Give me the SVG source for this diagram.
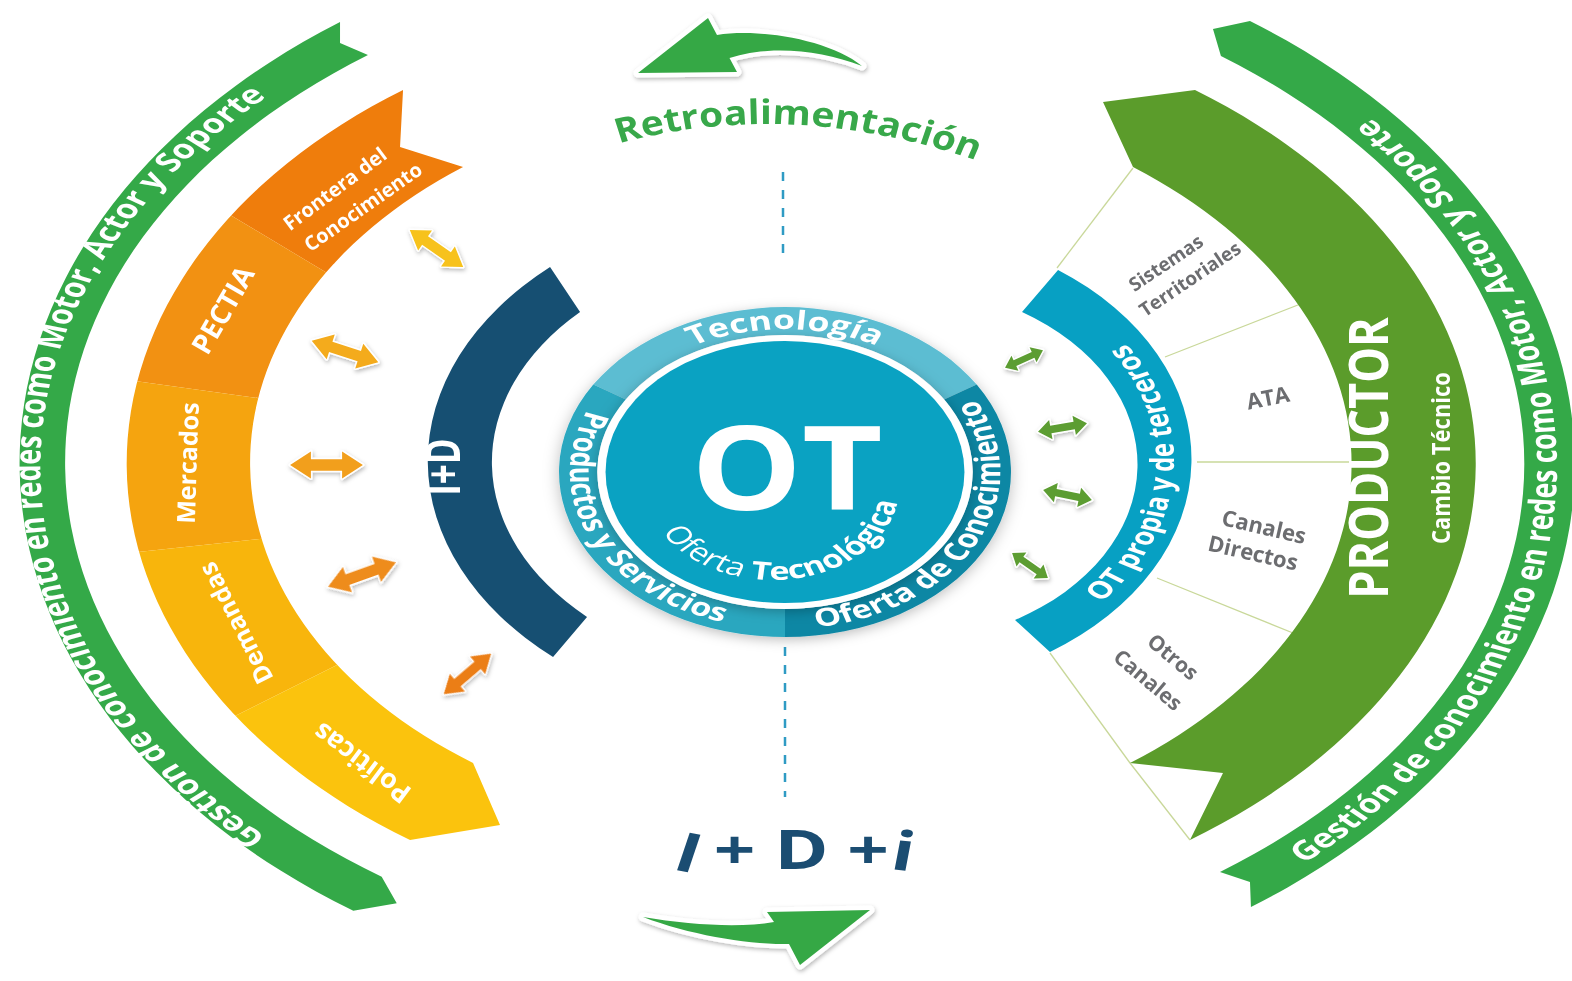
<svg xmlns="http://www.w3.org/2000/svg" width="1572" height="981" viewBox="0 0 1572 981">
<defs>
<style>
text { font-family: "Open Sans", "Liberation Sans", sans-serif; font-weight: 700; }
.w { fill: #ffffff; }
.gr { fill: #6c6d70; }
.sep { stroke: #c9d89a; stroke-width: 1.3; fill: none; }
.arr { stroke: #ffffff; stroke-width: 3; stroke-linejoin: round; paint-order: stroke; }
.stk { fill: #36a845; stroke: #ffffff; stroke-width: 9; stroke-linejoin: round; paint-order: stroke; }
</style>
<filter id="sh" x="-40%" y="-40%" width="180%" height="180%"><feDropShadow dx="1" dy="2" stdDeviation="2" flood-color="#000" flood-opacity="0.28"/></filter>
<filter id="sh2" x="-20%" y="-20%" width="140%" height="140%"><feDropShadow dx="0" dy="3" stdDeviation="6" flood-color="#000" flood-opacity="0.25"/></filter>
<path id="dbl" d="M -35 0 L -15 -13 L -15 -5.5 L 15 -5.5 L 15 -13 L 35 0 L 15 13 L 15 5.5 L -15 5.5 L -15 13 Z"/>
<path id="dblg" d="M -23 0 L -11 -9 L -11 -3.5 L 11 -3.5 L 11 -9 L 23 0 L 11 9 L 11 3.5 L -11 3.5 L -11 9 Z"/>
<clipPath id="cpO"><path d="M -278.8 -380 A 479.6 458 0 0 0 -273.7 370 L -208 355 L -227.7 293 A 390.5 370 0 0 1 -235 -303 L -281 -323 Z"/></clipPath>
<path id="pGL" d="M -271 443.9 A 545 516 0 0 1 -271 -449.9"/>
<path id="pGR" d="M 282.5 460.3 A 562 535 0 0 0 282.5 -466.3"/>
<path id="pTec" d="M -123.8 -69.5 A 143 143 0 0 1 123.8 -69.5"/>
<path id="pProd" d="M -128.6 -88.1 A 157 157 0 0 0 -13.7 158.4"/>
<path id="pOfe" d="M 5.5 158.9 A 157 157 0 0 0 130.2 -85.8"/>
<path id="pOT" d="M -95.4 49.2 A 92 92 0 0 0 83.1 17.7"/>
<path id="pCy" d="M 177 176.3 A 214 214 0 0 0 201.8 -177.6"/>
<path id="pRetro" d="M -153.9 143 Q -4.3 98 154.8 160"/>
</defs>
<rect width="1572" height="981" fill="#ffffff"/>

<!-- connectors: separators, dashed axis, double arrows -->
<g id="connectors">
  <path class="sep" d="M 1057 268 L 1133 168"/>
  <path class="sep" d="M 1165 357 L 1303 303"/>
  <path class="sep" d="M 1197 462 L 1353 462"/>
  <path class="sep" d="M 1157 578 L 1293 633"/>
  <path class="sep" d="M 1050 653 L 1130 763 L 1190 840"/>
  <path d="M 783 172 L 783 256" stroke="#2f9bc4" stroke-width="2.5" stroke-dasharray="9 9" fill="none"/>
  <path d="M 785 647 L 785 797" stroke="#2f9bc4" stroke-width="2.5" stroke-dasharray="9 9" fill="none"/>
  <g filter="url(#sh)">
    <use href="#dbl" class="arr" fill="#f7c21a" transform="translate(436.5 248.5) rotate(34.9) scale(0.93)"/>
    <use href="#dbl" class="arr" fill="#f4ab1a" transform="translate(345 351.5) rotate(18) scale(1)"/>
    <use href="#dbl" class="arr" fill="#f29f1d" transform="translate(326.5 465) rotate(0) scale(1.04)"/>
    <use href="#dbl" class="arr" fill="#ee8c1f" transform="translate(362 574.5) rotate(-19.7) scale(1.03)"/>
    <use href="#dbl" class="arr" fill="#eb7e18" transform="translate(467.5 674) rotate(-40.6) scale(0.89)"/>
    <use href="#dblg" class="arr" fill="#5c9d31" transform="translate(1024 359) rotate(-25) scale(0.91)"/>
    <use href="#dblg" class="arr" fill="#5c9d31" transform="translate(1062.5 427.5) rotate(-10) scale(1.08)"/>
    <use href="#dblg" class="arr" fill="#5c9d31" transform="translate(1067.5 495) rotate(11.5) scale(1.08)"/>
    <use href="#dblg" class="arr" fill="#5c9d31" transform="translate(1030 565.5) rotate(35) scale(0.95)"/>
  </g>
</g>

<g transform="translate(785 470) scale(1.37 1)">
  <g id="left-green-band">
    <path fill="#34a948" d="M -324.8 -448 A 567 545 0 0 0 -315.1 440.7 L -283.4 433.3 L -294.4 406.7 A 540 505 0 0 1 -304.4 -415 L -324.8 -427 Z"/>
    <text class="w" font-size="26.5"><textPath href="#pGL" startOffset="50%" text-anchor="middle">Gestión de conocimiento en redes como Motor, Actor y Soporte</textPath></text>
  </g>
  <g id="right-green-band">
    <path fill="#34a948" d="M 339.4 -449 A 567 545 0 0 1 340.1 437 L 339.4 412 L 317.5 402 A 540 505 0 0 0 318.2 -414 L 312.4 -441 Z"/>
    <text class="w" font-size="26.5"><textPath href="#pGR" startOffset="47%" text-anchor="middle">Gestión de conocimiento en redes como Motor, Actor y Soporte</textPath></text>
  </g>
  <g id="orange-band" clip-path="url(#cpO)">
    <polygon fill="#ef7d0c" points="-700,-497.6 0,77.8 0,-700 -700,-700"/>
    <polygon fill="#f29112" points="-700,-497.6 -121,-21.7 -700,-132.1"/>
    <polygon fill="#f5a40f" points="-700,-132.1 33.8,8.06 -700,115.2"/>
    <polygon fill="#f8b50c" points="-700,115.2 -78,24.4 -700,450.5"/>
    <polygon fill="#fbc30d" points="-700,450.5 0,-29 0,700 -700,700"/>
  </g>
  <g id="id-arc">
    <path fill="#164f72" d="M -171.5 -203 A 272 262 0 0 0 -169.3 187 L -144.5 147 A 224 214 0 0 1 -149.6 -158 Z"/>
    <text class="w" font-size="35" text-anchor="middle" transform="translate(-237.2 -3) rotate(-90)">I+D</text>
  </g>
  <g id="cyan-arc">
    <path fill="#07a0c3" d="M 199.3 -200 A 232 232 0 0 1 193.4 182 L 167.9 150 A 180 180 0 0 0 173 -158 Z"/>
    <text class="w" font-size="24"><textPath href="#pCy" startOffset="50%" text-anchor="middle">OT propia y de terceros</textPath></text>
  </g>
  <g id="center-ot">
    <g filter="url(#sh2)">
      <path fill="#5cbdd2" d="M -139.9 -85.4 A 165 165 0 0 1 139.9 -85.4 L 116.2 -70.6 A 137 137 0 0 0 -116.2 -70.6 Z"/>
      <path fill="#0f87a4" d="M 139.9 -85.4 A 165 165 0 0 1 0 167 L 0 139 A 137 137 0 0 0 116.2 -70.6 Z"/>
      <path fill="#29a7bf" d="M 0 167 A 165 165 0 0 1 -139.9 -85.4 L -116.2 -70.6 A 137 137 0 0 0 0 139 Z"/>
    </g>
    <circle cx="0" cy="2" r="137" fill="#ffffff" filter="url(#sh2)"/>
    <circle cx="0" cy="2" r="131" fill="#0aa2c2"/>
    <text class="w" font-size="26"><textPath href="#pTec" startOffset="50%" text-anchor="middle">Tecnología</textPath></text>
    <text class="w" font-size="25"><textPath href="#pProd" startOffset="50%" text-anchor="middle">Productos y Servicios</textPath></text>
    <text class="w" font-size="25"><textPath href="#pOfe" startOffset="50%" text-anchor="middle">Oferta de Conocimiento</textPath></text>
    <text class="w" font-size="25"><textPath href="#pOT" startOffset="50%" text-anchor="middle"><tspan font-weight="400">Oferta </tspan>Tecnológica</textPath></text>
  </g>
</g>

<g id="center-label">
  <text class="w" font-size="116" text-anchor="middle" transform="translate(787 510) scale(1.2 1)">OT</text>
</g>

<g id="orange-labels" class="w">
  <text font-size="20" text-anchor="middle" dy="0.35em" transform="translate(335 189) rotate(-37)">Frontera del</text>
  <text font-size="20" text-anchor="middle" dy="0.35em" transform="translate(363 207) rotate(-35)">Conocimiento</text>
  <text font-size="28" text-anchor="middle" dy="0.35em" transform="translate(223 310) rotate(-60)">PECTIA</text>
  <text font-size="25" text-anchor="middle" dy="0.35em" transform="translate(188 463) rotate(-88)">Mercados</text>
  <text font-size="25" text-anchor="middle" dy="0.35em" transform="translate(236 623) rotate(-117)">Demandas</text>
  <text font-size="27" text-anchor="middle" dy="0.35em" transform="translate(362 763) rotate(-143)">Políticas</text>
</g>

<g id="productor">
  <path fill="#5b9c2b" d="M 1195 90 A 693 465 0 0 1 1190 840 L 1223 773 L 1130 763 A 568 377 0 0 0 1133 167 L 1103 102 Z"/>
  <text class="w" font-size="45" text-anchor="middle" transform="translate(1388 458) scale(1.18 1) rotate(-90)">PRODUCTOR</text>
  <text class="w" font-size="22" text-anchor="middle" transform="translate(1450 458) scale(1.12 1) rotate(-90)">Cambio Técnico</text>
</g>

<g id="channels" class="gr">
  <text font-size="19" text-anchor="middle" dy="0.35em" transform="translate(1166 263) rotate(-34)">Sistemas</text>
  <text font-size="19" text-anchor="middle" dy="0.35em" transform="translate(1190 279) rotate(-34)">Territoriales</text>
  <text font-size="22" text-anchor="middle" dy="0.35em" transform="translate(1268 398) rotate(-11)">ATA</text>
  <text font-size="22" text-anchor="middle" dy="0.35em" transform="translate(1264 527) rotate(13)">Canales</text>
  <text font-size="22" text-anchor="middle" dy="0.35em" transform="translate(1253 553) rotate(13)">Directos</text>
  <text font-size="21" text-anchor="middle" dy="0.35em" transform="translate(1173 657) rotate(40)">Otros</text>
  <text font-size="21" text-anchor="middle" dy="0.35em" transform="translate(1148 680) rotate(40)">Canales</text>
</g>

<g id="retroalimentacion">
  <path class="stk" filter="url(#sh)" d="M 638 73 L 708 18 L 717 35 C 760 28 830 40 862 66 C 820 50 770 45 729.5 58 L 737 72 Z"/>
  <g transform="translate(797 0) scale(1.15 1)">
    <text font-size="34" fill="#38a84a"><textPath href="#pRetro" startOffset="50%" text-anchor="middle">Retroalimentación</textPath></text>
  </g>
</g>

<g id="idi">
  <text font-size="54" text-anchor="middle" fill="#1b4d72" rotate="14 0 0 0 0 0 0 8" transform="translate(791 869) scale(1.35 1)">I + D +i</text>
  <path class="stk" filter="url(#sh)" d="M 870 910 L 800 965 L 789 944 C 750 945 690 935 643 917 C 690 925 740 928 774 922 L 767 912 Z"/>
</g>
</svg>
